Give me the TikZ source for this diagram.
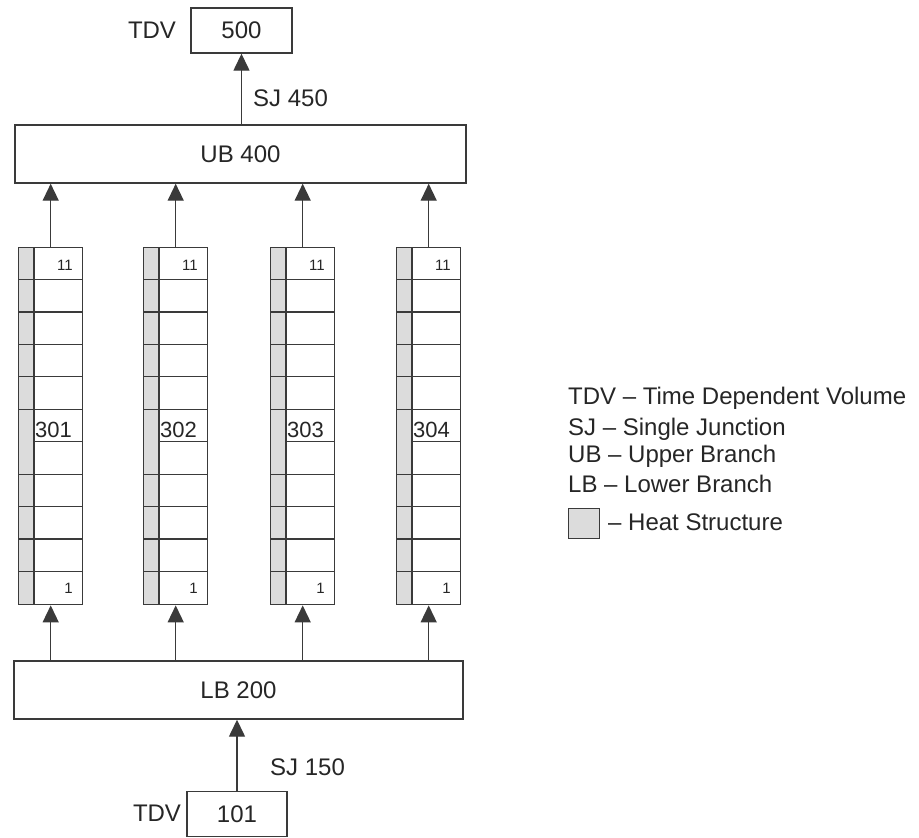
\documentclass[tikz,border=0pt]{standalone}
\usepackage{fontspec}
\setmainfont{Liberation Sans}
\usetikzlibrary{arrows.meta}
\definecolor{ln}{HTML}{3A3A3A}
\definecolor{hs}{HTML}{DCDCDC}
\definecolor{tx}{HTML}{262626}
\tikzset{
  box/.style={draw=ln, line width=1.4pt, rectangle, inner sep=0pt, text=tx, font=\fontsize{24pt}{28pt}\selectfont},
  colbox/.style={draw=ln, line width=1.4pt, rectangle, inner sep=0pt, minimum width=64pt, minimum height=357pt, anchor=north west},
  conn/.style={draw=ln, line width=1.4pt, -{Triangle[length=17pt,width=16pt]}},
  lbl/.style={inner sep=0pt, text=tx, font=\fontsize{24pt}{28pt}\selectfont},
  cellnum/.style={inner sep=0pt, text=tx, font=\fontsize{15pt}{17pt}\selectfont, anchor=east},
  colname/.style={inner sep=0pt, text=tx, font=\fontsize{22pt}{26pt}\selectfont, anchor=west},
  grid/.style={draw=ln, line width=1.2pt}
}
\begin{document}
\begin{tikzpicture}[x=1pt,y=-1pt]
\useasboundingbox (0,0) rectangle (919,838);
% top and bottom boxes
\node[box, minimum width=101pt, minimum height=45pt] (t500) at (241.5,30.5) {500};
\node[lbl] (tdvtop) at (152,30) {TDV};
\node[box, minimum width=451pt, minimum height=58pt] (ub) at (240.5,154) {UB 400};
\node[box, minimum width=449pt, minimum height=58pt] (lb) at (238.5,690) {LB 200};
\node[box, minimum width=100pt, minimum height=45pt] (t101) at (237,814) {101};
\node[lbl] (tdvbot) at (157,813) {TDV};
\node[lbl, anchor=west] (sj450) at (253,98) {SJ 450};
\node[lbl, anchor=west] (sj150) at (270,767) {SJ 150};
% columns
\foreach \i/\x in {1/18,2/143,3/270,4/396}{
  \fill[hs] (\x,247) rectangle (\x+16,604);
  \foreach \k in {1,...,10}{
    \draw[grid] (\x+16,247+\k*32.45) -- (\x+64,247+\k*32.45);
    \ifnum\k=6\relax\else
      \draw[grid] (\x,247+\k*32.45) -- (\x+16,247+\k*32.45);
    \fi
  }
  \draw[grid] (\x+16,247) -- (\x+16,604);
  \node[colbox] (c\i) at (\x,247) {};
  \node[cellnum] (n\i top) at (\x+55,265) {11};
  \node[cellnum] (n\i bot) at (\x+55,588) {1};
  \node[colname] (name\i) at (\x+17,430) {30\i};
  \draw[conn] (c\i.north) -- (c\i.north |- ub.south);
  \draw[conn] (c\i.south |- lb.north) -- (c\i.south);
}
\draw[conn] (t500.south |- ub.north) -- (t500.south);
\draw[conn] (t101.north) -- (t101.north |- lb.south);
% legend
\node[lbl, anchor=west] (lg1) at (568,398) {TDV – Time Dependent Volume};
\node[lbl, anchor=west] (lg2) at (568,429) {SJ – Single Junction};
\node[lbl, anchor=west] (lg3) at (568,456) {UB – Upper Branch};
\node[lbl, anchor=west] (lg4) at (568,484) {LB – Lower Branch};
\node[draw=ln, fill=hs, line width=1.2pt, inner sep=0pt, minimum width=31pt, minimum height=30pt, anchor=north west] (hsbox) at (568,508) {};
\node[lbl, anchor=west] (lg5) at (608,522) {– Heat Structure};
\end{tikzpicture}
\end{document}
